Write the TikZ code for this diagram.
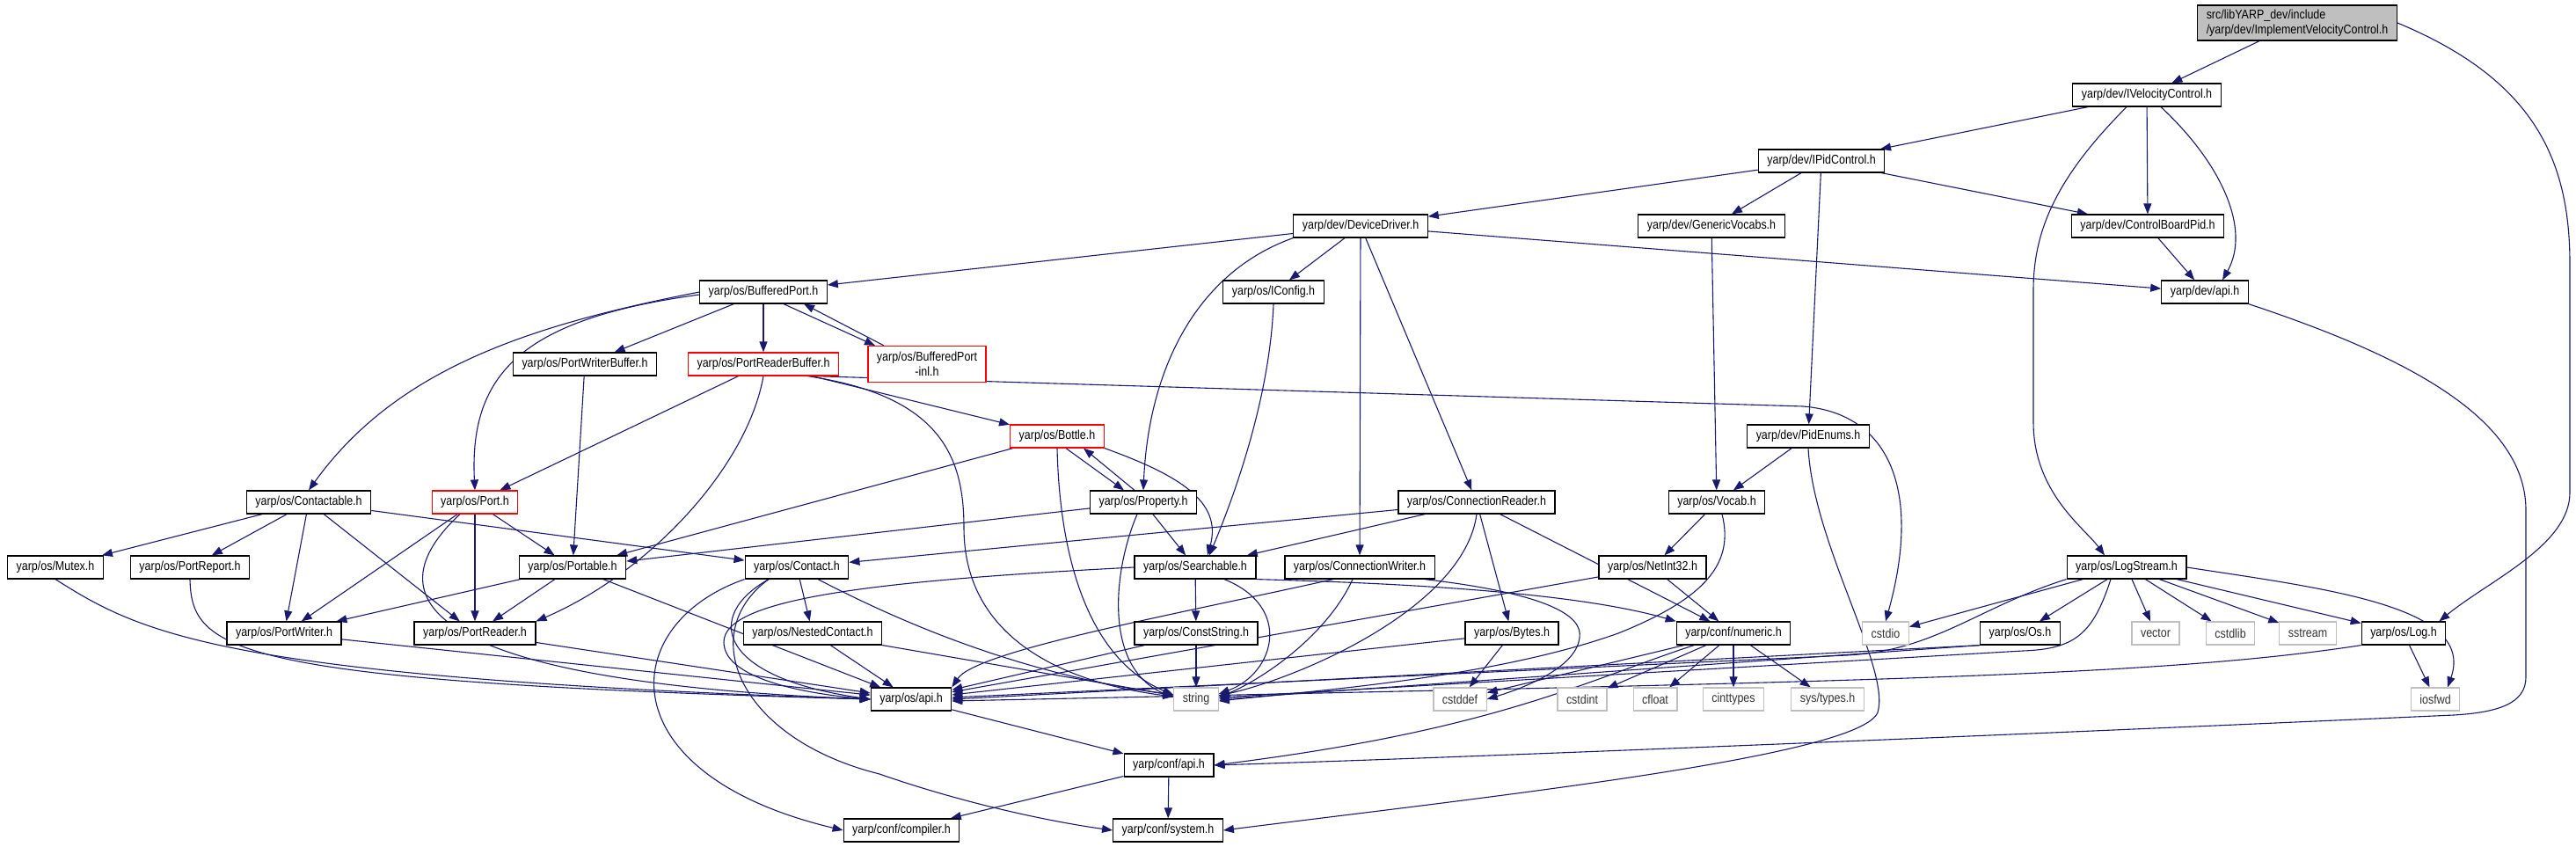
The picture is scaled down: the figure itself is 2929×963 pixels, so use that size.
\documentclass[tikz,border=0pt]{standalone}
\usepackage{fontspec}
\setmainfont{Liberation Sans}[FakeStretch=0.86]
\usetikzlibrary{arrows.meta}
\definecolor{edgeblue}{HTML}{191970}
\definecolor{boxgray}{HTML}{BFBFBF}
\pgfdeclarelayer{background}
\pgfsetlayers{background,main}
\tikzset{
  hdr/.style={draw=black,line width=1.2pt,fill=white,minimum height=26pt,inner xsep=10pt,inner ysep=1pt,font=\fontsize{14.5}{17}\selectfont},
  hdrred/.style={hdr,draw=red},
  hdrsys/.style={hdr,draw=boxgray,text=black!80},
  inc/.style={edgeblue,line width=1.1pt,-{Triangle[length=12pt,width=9pt]}}
}

\begin{document}
\begin{tikzpicture}[x=1pt,y=-1pt]
\useasboundingbox (0,0) rectangle (2929,963);
\node[hdr,fill=boxgray,align=left,minimum height=40pt] (top) at (2612,26) {src/libYARP\_dev/include\\/yarp/dev/ImplementVelocityControl.h};
\node[hdr] (ivel) at (2441,108) {yarp/dev/IVelocityControl.h};
\node[hdr] (ipid) at (2071,183) {yarp/dev/IPidControl.h};
\node[hdr] (devdrv) at (1547,257) {yarp/dev/DeviceDriver.h};
\node[hdr] (genvoc) at (1946,257) {yarp/dev/GenericVocabs.h};
\node[hdr] (cbpid) at (2442,257) {yarp/dev/ControlBoardPid.h};
\node[hdr] (devapi) at (2507,332) {yarp/dev/api.h};
\node[hdr] (bport) at (868,332) {yarp/os/BufferedPort.h};
\node[hdr] (iconfig) at (1448,332) {yarp/os/IConfig.h};
\node[hdr] (pwbuf) at (665,414) {yarp/os/PortWriterBuffer.h};
\node[hdrred] (prbuf) at (868,414) {yarp/os/PortReaderBuffer.h};
\node[hdrred,align=center,minimum height=41pt] (bpinl) at (1054,414) {yarp/os/BufferedPort\\-inl.h};
\node[hdrred] (bottle) at (1202,496) {yarp/os/Bottle.h};
\node[hdr] (pidenum) at (2056,496) {yarp/dev/PidEnums.h};
\node[hdr] (contactable) at (351,571) {yarp/os/Contactable.h};
\node[hdrred] (port) at (540,571) {yarp/os/Port.h};
\node[hdr] (property) at (1300,571) {yarp/os/Property.h};
\node[hdr] (connreader) at (1679,571) {yarp/os/ConnectionReader.h};
\node[hdr] (vocab) at (1952,571) {yarp/os/Vocab.h};
\node[hdr] (logstream) at (2418,645) {yarp/os/LogStream.h};
\node[hdr] (mutex) at (63,645) {yarp/os/Mutex.h};
\node[hdr] (portreport) at (216,645) {yarp/os/PortReport.h};
\node[hdr] (portable) at (651,645) {yarp/os/Portable.h};
\node[hdr] (contact) at (906,645) {yarp/os/Contact.h};
\node[hdr] (searchable) at (1359,645) {yarp/os/Searchable.h};
\node[hdr] (connwriter) at (1546,645) {yarp/os/ConnectionWriter.h};
\node[hdr] (netint) at (1879,645) {yarp/os/NetInt32.h};
\node[hdr] (portwriter) at (323,720) {yarp/os/PortWriter.h};
\node[hdr] (portreader) at (540,720) {yarp/os/PortReader.h};
\node[hdr] (nested) at (924,720) {yarp/os/NestedContact.h};
\node[hdr] (conststring) at (1360,720) {yarp/os/ConstString.h};
\node[hdr] (bytes) at (1719,720) {yarp/os/Bytes.h};
\node[hdr] (numeric) at (1971,720) {yarp/conf/numeric.h};
\node[hdrsys] (cstdio) at (2144,720) {cstdio};
\node[hdr] (os) at (2297,720) {yarp/os/Os.h};
\node[hdrsys] (vector) at (2451,720) {vector};
\node[hdrsys] (cstdlib) at (2536,720) {cstdlib};
\node[hdrsys] (sstream) at (2624,720) {sstream};
\node[hdr] (log) at (2733,720) {yarp/os/Log.h};
\node[hdr] (osapi) at (1036,795) {yarp/os/api.h};
\node[hdrsys] (string) at (1360,795) {string};
\node[hdrsys] (cstddef) at (1660,795) {cstddef};
\node[hdrsys] (cstdint) at (1799,795) {cstdint};
\node[hdrsys] (cfloat) at (1882,795) {cfloat};
\node[hdrsys] (cinttypes) at (1971,795) {cinttypes};
\node[hdrsys] (systypes) at (2078,795) {sys/types.h};
\node[hdrsys] (iosfwd) at (2769,795) {iosfwd};
\node[hdr] (confapi) at (1329,870) {yarp/conf/api.h};
\node[hdr] (compiler) at (1025,944) {yarp/conf/compiler.h};
\node[hdr] (system) at (1328,944) {yarp/conf/system.h};

\begin{pgfonlayer}{background}
\draw[inc] (top) -- (ivel);
\draw[inc] (top.east) .. controls (2880,90) and (2922,180) .. (2922,300) -- (2922,560) .. controls (2922,620) and (2830,660) .. ([xshift=-8pt]log.north east);
\draw[inc] (ivel) -- (ipid);
\draw[inc] (ivel) -- (cbpid);
\draw[inc] ([xshift=16pt]ivel.south) .. controls (2525,185) and (2560,260) .. ([xshift=20pt]devapi.north);
\draw[inc] ([xshift=-23pt]ivel.south) .. controls (2340,200) and (2312,260) .. (2312,330) -- (2312,480) .. controls (2312,560) and (2370,600) .. ([xshift=-25pt]logstream.north);
\draw[inc] (ipid) -- (devdrv);
\draw[inc] (ipid) -- (genvoc);
\draw[inc] (ipid) -- (pidenum);
\draw[inc] (ipid) -- (cbpid);
\draw[inc] (cbpid) -- (devapi);
\draw[inc] (devapi.south east) .. controls (2720,400) and (2872,470) .. (2872,580) -- (2872,770) .. controls (2872,800) and (2840,810) .. (2790,813) .. controls (2300,835) and (1700,860) .. (confapi.east);
\draw[inc] (devdrv) -- (bport);
\draw[inc] (devdrv.south west) .. controls (1360,310) and (1306,420) .. (property.north);
\draw[inc] (devdrv) -- (iconfig);
\draw[inc] (devdrv) -- (connwriter);
\draw[inc] (devdrv) -- (connreader);
\draw[inc] (devdrv) -- (devapi);
\draw[inc] (genvoc) -- (vocab);
\draw[inc] (iconfig.south) .. controls (1444,450) and (1405,560) .. ([xshift=16pt]searchable.north);
\draw[inc] (bport.west) .. controls (600,370) and (450,420) .. (contactable.north);
\draw[inc] ([yshift=-3pt]bport.west) .. controls (600,362) and (533,420) .. (port.north);
\draw[inc] (bport) -- (pwbuf);
\draw[inc] (bport) -- (prbuf);
\draw[inc] ([xshift=23pt]bport.south) -- ([xshift=-59pt]bpinl.north);
\draw[inc] ([xshift=-49pt]bpinl.north) -- ([xshift=46pt]bport.south);
\draw[inc] (pwbuf) -- (portable);
\draw[inc] (prbuf) -- (port);
\draw[inc] (prbuf.south) .. controls (850,530) and (740,650) .. (portreader.north east);
\draw[inc] (prbuf) -- (bottle);
\draw[inc] ([xshift=50pt]prbuf.south) .. controls (1070,450) and (1096,520) .. (1096,600) .. controls (1096,720) and (1200,775) .. ([yshift=3pt]string.west);
\draw[inc] ([xshift=57pt]prbuf.south) -- (2050,462) .. controls (2150,470) and (2185,560) .. (cstdio.north);
\draw[inc] (bottle) -- (portable);
\draw[inc] ([xshift=10pt]bottle.south) -- ([xshift=-22pt]property.north);
\draw[inc] ([xshift=-10pt]property.north) -- ([xshift=30pt]bottle.south);
\draw[inc] (bottle.south east) .. controls (1340,540) and (1390,570) .. ([xshift=14pt]searchable.north);
\draw[inc] (bottle.south) .. controls (1205,640) and (1240,750) .. ([yshift=5pt]string.west);
\draw[inc] (property) -- (portable);
\draw[inc] (property) -- (searchable);
\draw[inc] ([xshift=-7pt]property.south) .. controls (1265,650) and (1255,760) .. ([yshift=2pt]string.west);
\draw[inc] (connreader) -- (contact);
\draw[inc] (connreader) -- (searchable);
\draw[inc] (connreader.south) .. controls (1665,690) and (1480,770) .. ([yshift=4pt]string.east);
\draw[inc] (connreader) -- (bytes);
\draw[inc] (connreader) -- (numeric);
\draw[inc] (searchable) -- (conststring);
\draw[inc] ([xshift=33pt]searchable.south) .. controls (1470,690) and (1450,765) .. ([yshift=6pt]string.east);
\draw[inc] (searchable.west) .. controls (1000,660) and (823,680) .. (823,730) .. controls (823,775) and (930,790) .. (osapi.west);
\draw[inc] (searchable.south east) .. controls (1550,662) and (1780,670) .. (numeric.north west);
\draw[inc] ([xshift=-30pt]connwriter.south) .. controls (1330,700) and (1110,740) .. (osapi.north east);
\draw[inc] ([xshift=-8pt]connwriter.south) .. controls (1510,720) and (1440,770) .. ([yshift=2pt]string.east);
\draw[inc] ([xshift=74pt]connwriter.south) .. controls (1760,675) and (1800,700) .. (1796,725) .. controls (1792,760) and (1730,783) .. (cstddef.east);
\draw[inc] (conststring) -- (osapi);
\draw[inc] (conststring) -- (string);
\draw[inc] (bytes) -- (osapi);
\draw[inc] (bytes) -- (cstddef);
\draw[inc] (netint) -- (osapi);
\draw[inc] (netint) -- (numeric);
\draw[inc] (vocab) -- (netint);
\draw[inc] ([xshift=6pt]vocab.south) .. controls (1972,640) and (1940,680) .. (1840,720) .. controls (1700,770) and (1500,785) .. ([yshift=-2pt]string.east);
\draw[inc] (pidenum) -- (vocab);
\draw[inc] (pidenum.south) .. controls (2062,620) and (2150,760) .. (2135,810) .. controls (2115,860) and (1700,905) .. (system.east);
\draw[inc] (contactable) -- (mutex);
\draw[inc] (contactable) -- (portreport);
\draw[inc] (contactable) -- (portwriter);
\draw[inc] (contactable) -- (portreader);
\draw[inc] (contactable) -- (contact);
\draw[inc] (port) -- (portwriter);
\draw[inc] (port) -- (portreader);
\draw[inc] (port) -- (portable);
\draw[inc] ([xshift=-17pt]port.south) .. controls (420,680) and (480,775) .. (osapi.west);
\draw[inc] (portable) -- (portwriter);
\draw[inc] (portable) -- (portreader);
\draw[inc] (portable) -- (osapi);
\draw[inc] (mutex.south) .. controls (160,720) and (250,770) .. (osapi.west);
\draw[inc] (portreport.south) .. controls (218,740) and (260,775) .. (osapi.west);
\draw[inc] (portwriter) -- (osapi);
\draw[inc] (portreader) -- (osapi);
\draw[inc] (contact) -- (nested);
\draw[inc] ([xshift=-32pt]contact.south) .. controls (800,700) and (815,770) .. (osapi.west);
\draw[inc] ([xshift=-32pt]contact.south) .. controls (790,720) and (840,840) .. (1000,880) .. controls (1100,915) and (1200,935) .. (system.west);
\draw[inc] (contact.south west) .. controls (700,710) and (690,880) .. (compiler.west);
\draw[inc] ([xshift=24pt]contact.south) .. controls (1010,700) and (1150,765) .. ([yshift=5pt]string.west);
\draw[inc] (nested) -- (osapi);
\draw[inc] (nested) -- (string);
\draw[inc] (osapi) -- (confapi);
\draw[inc] (confapi) -- (compiler);
\draw[inc] (confapi) -- (system);
\draw[inc] (numeric) -- (cstddef);
\draw[inc] (numeric) -- (cstdint);
\draw[inc] (numeric) -- (cfloat);
\draw[inc] (numeric) -- (cinttypes);
\draw[inc] (numeric) -- (systypes);
\draw[inc] ([xshift=-45pt]numeric.south) .. controls (1800,775) and (1700,830) .. (confapi.east);
\draw[inc] (logstream) -- (cstdio);
\draw[inc] (logstream.south west) .. controls (2250,690) and (2200,740) .. (2100,745) -- ([yshift=2pt]osapi.east);
\draw[inc] ([xshift=-18pt]logstream.south) .. controls (2380,720) and (2360,738) .. (2300,740) -- ([yshift=2pt]string.east);
\draw[inc] (logstream) -- (os);
\draw[inc] (logstream) -- (vector);
\draw[inc] (logstream) -- (cstdlib);
\draw[inc] (logstream) -- (sstream);
\draw[inc] (logstream) -- (log);
\draw[inc] (logstream.east) .. controls (2650,670) and (2815,690) .. ([xshift=14pt]iosfwd.north);
\draw[inc] (os.south west) -- (osapi.east);
\draw[inc] (os.south west) -- (string.east);
\draw[inc] (log.south west) .. controls (2450,770) and (2100,775) .. ([yshift=-2pt]osapi.east);
\draw[inc] (log) -- (iosfwd);
\end{pgfonlayer}
\end{tikzpicture}
\end{document}
